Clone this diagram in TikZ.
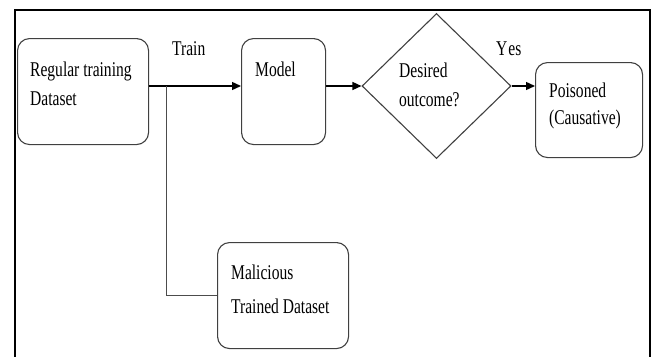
\documentclass[tikz,border=0pt]{standalone}
\usepackage{fontspec}
\setmainfont{Liberation Serif}[FakeStretch=0.74]
\usetikzlibrary{shapes.geometric,arrows.meta,calc}
\begin{document}
\begin{tikzpicture}[x=1pt,y=-1pt,
  box/.style={draw=black!75,line width=1.1pt,rounded corners=12pt,inner sep=0pt,anchor=north west},
  txt/.style={anchor=base west,inner sep=0pt,font=\fontsize{21}{24}\selectfont},
  conn/.style={draw=black,line width=1.4pt},
  arr/.style={conn,-{Triangle[length=9pt,width=8pt]}}]
\useasboundingbox (0,0) rectangle (653,356);
\draw[line width=2.4pt] (15,357) -- (15,10) -- (650,10) -- (650,357);
% boxes
\node[box,minimum width=131pt,minimum height=106pt] (reg) at (17,38) {};
\node[box,minimum width=84pt,minimum height=106pt] (model) at (241,38) {};
\node[draw=black!75,line width=1.1pt,diamond,inner sep=0pt,minimum width=149pt,minimum height=145pt] (dia) at (436.5,86) {};
\node[box,minimum width=107pt,minimum height=95pt] (pois) at (535,62) {};
\node[box,minimum width=131pt,minimum height=106pt] (mal) at (217,242) {};
% texts
\node[txt] (t1) at (30,76) {Regular training};
\node[txt] (t2) at (30,105) {Dataset};
\node[txt] (t3) at (255,76) {Model};
\node[txt] (t4) at (399,77) {Desired};
\node[txt] (t5) at (399,106) {outcome?};
\node[txt] (t6) at (549,97) {Poisoned};
\node[txt] (t7) at (549,124) {(Causative)};
\node[txt] (t8) at (231,279) {Malicious};
\node[txt] (t9) at (231,313) {Trained Dataset};
\node[txt] (train) at (172,55) {Train};
\node[txt] (yes) at (496,55) {Y\kern1pt es};
% connectors
\coordinate (j) at (166,0 |- dia.west);
\path[arr] (reg.east |- dia.west) -- (model.west |- dia.west);
\path[conn,draw=black!70,line width=0.9pt] (j) |- (mal.west);
\path[arr] (model.east |- dia.west) -- (dia.west);
\path[arr] (dia.east) -- (pois.west |- dia.east);
\end{tikzpicture}
\end{document}
